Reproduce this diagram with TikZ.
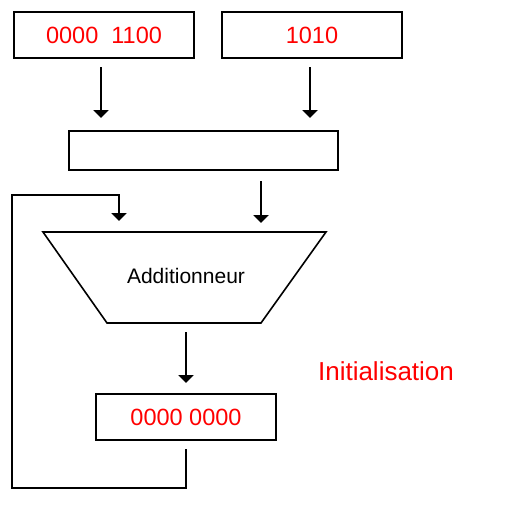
\documentclass[tikz,border=0pt]{standalone}
\usepackage{fontspec}
\setmainfont{Liberation Sans}
\usetikzlibrary{arrows.meta}
\begin{document}
\begin{tikzpicture}[x=1pt,y=-1pt,
  box/.style={draw=black,line width=2pt,minimum width=180pt,minimum height=46pt,inner sep=0pt,text=red,font=\fontsize{23.5}{27}\selectfont},
  arr/.style={line width=2pt,-{Triangle[width=15pt,length=8pt]}},
  wire/.style={line width=2pt}]
\useasboundingbox (0,0) rectangle (512,504);
\node[box] (a) at (104,35) {0000\ \ 1100};
\node[box] (b) at (312,35) {1010};
\node[box,minimum width=269pt,minimum height=39pt] (c) at (203.5,150.5) {};
\node[box] (d) at (186,417) {0000 0000};
% trapezoid (adder)
\coordinate (t1) at (43,232);
\coordinate (t2) at (326,232);
\coordinate (t3) at (261,323);
\coordinate (t4) at (107,323);
\draw[line width=1.6pt,line join=miter] (t1) -- (t2) -- (t3) -- (t4) -- cycle;
\node[font=\fontsize{21}{25}\selectfont] (add) at (186,276) {Additionneur};
\node[text=red,font=\fontsize{26}{30}\selectfont] (init) at (386,371) {Initialisation};
% connectors
\coordinate (a1) at (101,67); \coordinate (a2) at (101,118);
\coordinate (b1) at (310,67); \coordinate (b2) at (310,118);
\coordinate (c1) at (261,181); \coordinate (c2) at (261,223);
\coordinate (o1) at (186,332); \coordinate (o2) at (186,383);
\coordinate (f1) at (186,449); \coordinate (f2) at (186,488);
\coordinate (f3) at (12,488); \coordinate (f4) at (12,195);
\coordinate (f5) at (119,195); \coordinate (f6) at (119,221);
\draw[arr] (a1) -- (a2);
\draw[arr] (b1) -- (b2);
\draw[arr] (c1) -- (c2);
\draw[arr] (o1) -- (o2);
\draw[arr,line join=miter] (f1) -- (f2) -- (f3) -- (f4) -- (f5) -- (f6);
\end{tikzpicture}
\end{document}
